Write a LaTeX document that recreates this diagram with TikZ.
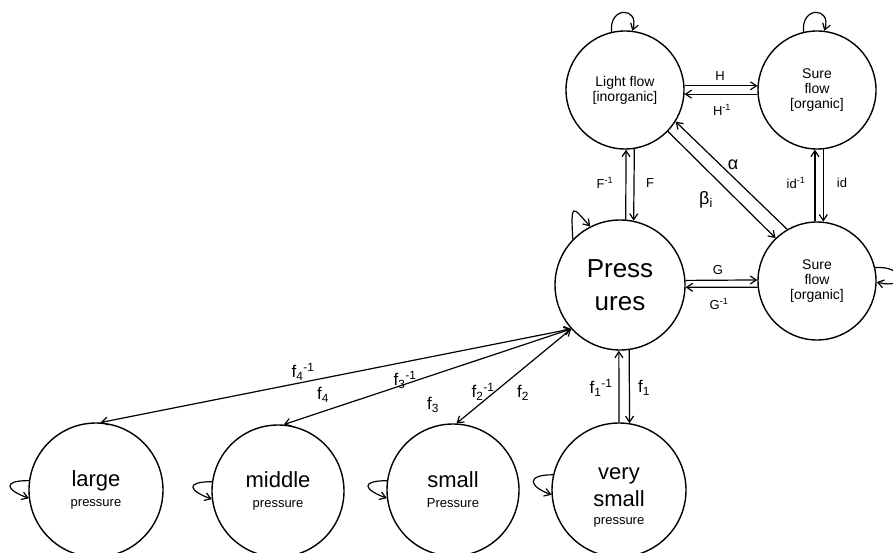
\documentclass[tikz,border=0pt]{standalone}
\usepackage{fontspec}
\setmainfont{Liberation Sans}
\usetikzlibrary{arrows.meta}
\begin{document}
\begin{tikzpicture}[x=1pt,y=-1pt,
  state/.style={draw,circle,line width=1.4pt,inner sep=0pt,align=center},
  arr/.style={line width=1.2pt,-{Straight Barb[length=6pt,width=8pt]}},
  biarr/.style={line width=1.2pt,{Straight Barb[length=6pt,width=8pt]}-{Straight Barb[length=6pt,width=8pt]}},
  lbl/.style={inner sep=0pt,font=\fontsize{13}{14}\selectfont},
  flbl/.style={inner sep=0pt,font=\fontsize{17}{20}\selectfont},
  glbl/.style={inner sep=0pt,font=\fontsize{18}{20}\selectfont},
]
\useasboundingbox (0,0) rectangle (893,553);

% states
\node[state,minimum size=118pt,font=\fontsize{14}{15}\selectfont] (lf) at (625,90) {Light flow\\{[}inorganic{]}};
\node[state,minimum size=118pt,font=\fontsize{14}{15}\selectfont] (sft) at (817,90) {Sure\\flow\\{[}organic{]}};
\node[state,minimum size=130pt,font=\fontsize{26}{33}\selectfont] (pr) at (620,285) {Press\\ures};
\node[state,minimum size=118pt,font=\fontsize{14}{15}\selectfont] (sfb) at (817,281) {Sure\\flow\\{[}organic{]}};

\node[state,minimum size=134pt,font=\fontsize{13}{20}\selectfont] (lg) at (96,490) {{\fontsize{22}{24}\selectfont large}\\pressure};
\node[state,minimum size=132pt,font=\fontsize{13}{20}\selectfont] (md) at (278,491) {{\fontsize{22}{24}\selectfont middle}\\pressure};
\node[state,minimum size=132pt,font=\fontsize{13}{20}\selectfont] (sm) at (453,490) {{\fontsize{22}{24}\selectfont small}\\Pressure};
\node[state,minimum size=134pt] (vs) at (619,490) {};
\node[align=center,inner sep=0pt,font=\fontsize{22}{27}\selectfont] (vstext) at (619,497) {very\\small\\[-9pt]{\fontsize{13}{15}\selectfont pressure}};

% paired morphisms
\draw[arr] (lf.4) -- (sft.176);
\draw[arr] (sft.184) -- (lf.-4);
\draw[arr] (pr.85) -- (lf.-89);
\draw[arr] (lf.-81) -- (pr.78);
\draw[arr] (sfb.92) -- (sft.-92);
\draw[arr] (sft.-84) -- (sfb.84);
\draw[arr] (pr.4) -- (sfb.179);
\draw[arr] (sfb.186) -- (pr.-2);
\draw[arr] (sfb.120) -- (lf.-32);
\draw[arr] (lf.-44) -- (sfb.134);
\draw[arr] (vs.90) -- (pr.-91);
\draw[arr] (pr.-82) -- (vs.81);
\draw[biarr] (sm.87) -- (pr.222);
\draw[biarr] (md.85) -- (pr.222);
\draw[biarr] (lg.86) -- (pr.222);

% identity loops
\draw[arr] (lf.103) .. controls +(-3,-26) and +(8,-24) .. (lf.83);
\draw[arr] (sft.103) .. controls +(-3,-26) and +(8,-24) .. (sft.83);
\draw[arr] (pr.136) .. controls +(-2,-38) and +(-18,-20) .. (pr.117);
\draw[arr] (sfb.13) .. controls +(30,-2) and +(30,8) .. (sfb.-1);
\draw[arr] (lg.172) .. controls +(-28,0) and +(-22,-8) .. (lg.187);
\draw[arr] (md.172) .. controls +(-28,0) and +(-22,-8) .. (md.187);
\draw[arr] (sm.172) .. controls +(-28,0) and +(-22,-8) .. (sm.187);
\draw[arr] (vs.167) .. controls +(-28,0) and +(-22,-8) .. (vs.184);

% labels
\node[lbl] (lH) at (720,76) {H};
\node[lbl] (lHi) at (722,110) {H\textsuperscript{-1}};
\node[lbl] (lFi) at (605,183) {F\textsuperscript{-1}};
\node[lbl] (lF) at (650,183) {F};
\node[lbl] (lidi) at (796,183) {id\textsuperscript{-1}};
\node[lbl] (lid) at (842,183) {id};
\node[lbl] (lG) at (718,270) {G};
\node[lbl] (lGi) at (719,304) {G\textsuperscript{-1}};
\node[glbl] (la) at (733,165) {α};
\node[glbl] (lb) at (706,200) {β\textsubscript{i}};
\node[flbl] (lf1i) at (601,388) {f\textsubscript{1}\textsuperscript{-1}};
\node[flbl] (lf1) at (644,388) {f\textsubscript{1}};
\node[flbl] (lf2i) at (483,392) {f\textsubscript{2}\textsuperscript{-1}};
\node[flbl] (lf2) at (523,393) {f\textsubscript{2}};
\node[flbl] (lf3i) at (405,380) {f\textsubscript{3}\textsuperscript{-1}};
\node[flbl] (lf3) at (433,405) {f\textsubscript{3}};
\node[flbl] (lf4i) at (303,372) {f\textsubscript{4}\textsuperscript{-1}};
\node[flbl] (lf4) at (323,395) {f\textsubscript{4}};
\end{tikzpicture}
\end{document}
